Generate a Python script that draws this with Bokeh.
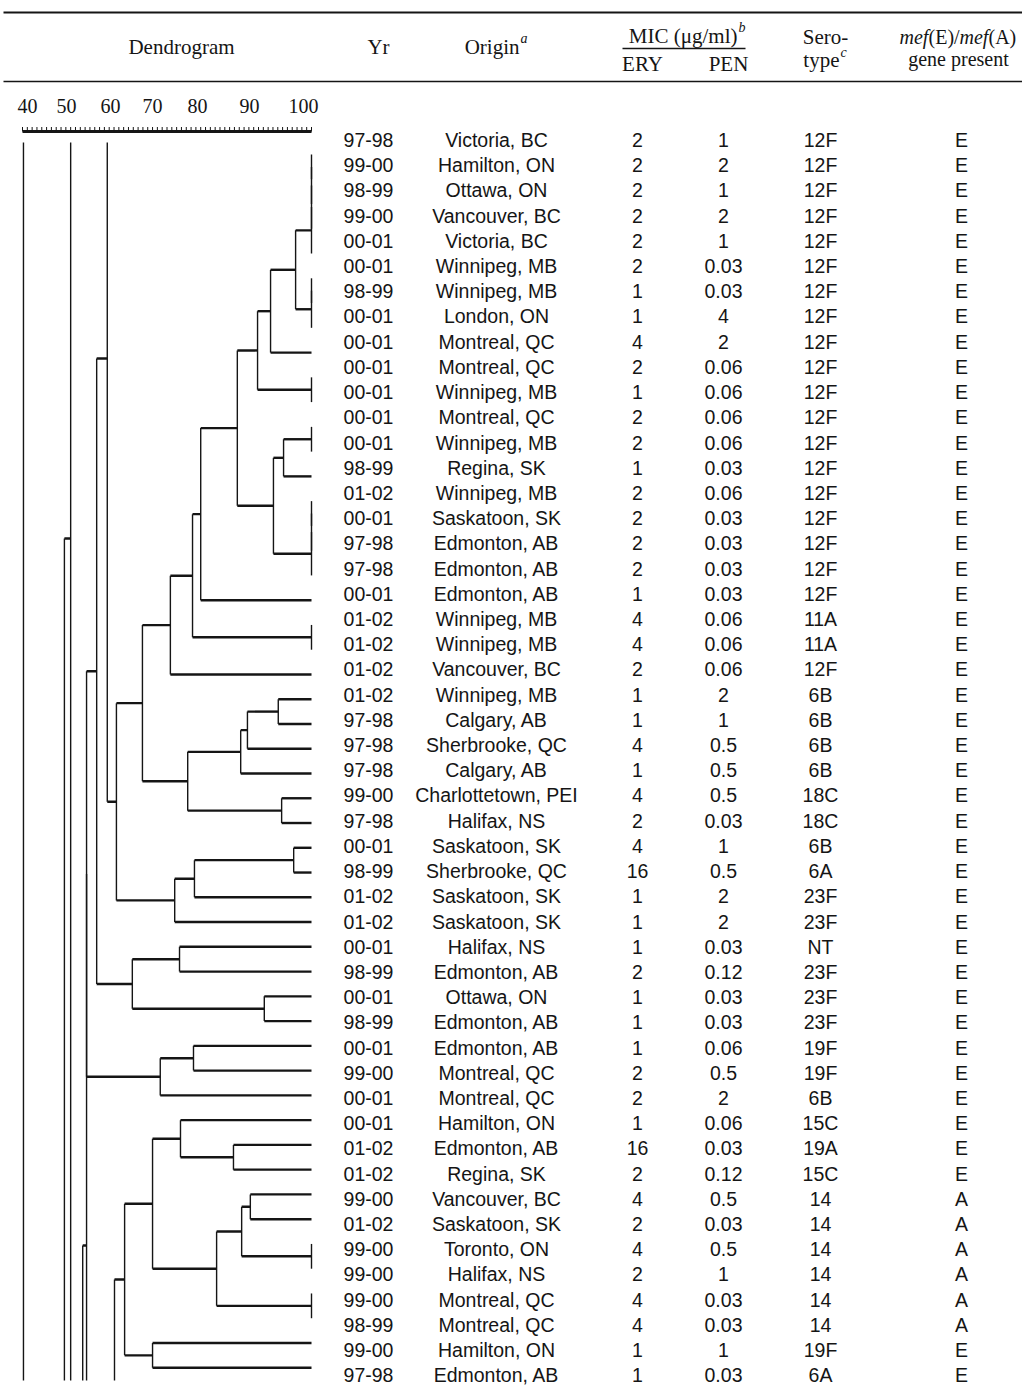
from bokeh.plotting import figure
from bokeh.models import Range1d, ColumnDataSource
from bokeh.embed import file_html
from bokeh.resources import INLINE
from bokeh.core.properties import value

# ---------------- data ----------------
years = ["97-98", "99-00", "98-99", "99-00", "00-01", "00-01", "98-99", "00-01", "00-01", "00-01",
         "00-01", "00-01", "00-01", "98-99", "01-02", "00-01", "97-98", "97-98", "00-01", "01-02",
         "01-02", "01-02", "01-02", "97-98", "97-98", "97-98", "99-00", "97-98", "00-01", "98-99",
         "01-02", "01-02", "00-01", "98-99", "00-01", "98-99", "00-01", "99-00", "00-01", "00-01",
         "01-02", "01-02", "99-00", "01-02", "99-00", "99-00", "99-00", "98-99", "99-00", "97-98"]
origins = ["Victoria, BC", "Hamilton, ON", "Ottawa, ON", "Vancouver, BC", "Victoria, BC",
           "Winnipeg, MB", "Winnipeg, MB", "London, ON", "Montreal, QC", "Montreal, QC",
           "Winnipeg, MB", "Montreal, QC", "Winnipeg, MB", "Regina, SK", "Winnipeg, MB",
           "Saskatoon, SK", "Edmonton, AB", "Edmonton, AB", "Edmonton, AB", "Winnipeg, MB",
           "Winnipeg, MB", "Vancouver, BC", "Winnipeg, MB", "Calgary, AB", "Sherbrooke, QC",
           "Calgary, AB", "Charlottetown, PEI", "Halifax, NS", "Saskatoon, SK", "Sherbrooke, QC",
           "Saskatoon, SK", "Saskatoon, SK", "Halifax, NS", "Edmonton, AB", "Ottawa, ON",
           "Edmonton, AB", "Edmonton, AB", "Montreal, QC", "Montreal, QC", "Hamilton, ON",
           "Edmonton, AB", "Regina, SK", "Vancouver, BC", "Saskatoon, SK", "Toronto, ON",
           "Halifax, NS", "Montreal, QC", "Montreal, QC", "Hamilton, ON", "Edmonton, AB"]
ery = ["2", "2", "2", "2", "2", "2", "1", "1", "4", "2",
       "1", "2", "2", "1", "2", "2", "2", "2", "1", "4",
       "4", "2", "1", "1", "4", "1", "4", "2", "4", "16",
       "1", "1", "1", "2", "1", "1", "1", "2", "2", "1",
       "16", "2", "4", "2", "4", "2", "4", "4", "1", "1"]
pen = ["1", "2", "1", "2", "1", "0.03", "0.03", "4", "2", "0.06",
       "0.06", "0.06", "0.06", "0.03", "0.06", "0.03", "0.03", "0.03", "0.03", "0.06",
       "0.06", "0.06", "2", "1", "0.5", "0.5", "0.5", "0.03", "1", "0.5",
       "2", "2", "0.03", "0.12", "0.03", "0.03", "0.06", "0.5", "2", "0.06",
       "0.03", "0.12", "0.5", "0.03", "0.5", "1", "0.03", "0.03", "1", "0.03"]
serotype = ["12F", "12F", "12F", "12F", "12F", "12F", "12F", "12F", "12F", "12F",
            "12F", "12F", "12F", "12F", "12F", "12F", "12F", "12F", "12F", "11A",
            "11A", "12F", "6B", "6B", "6B", "6B", "18C", "18C", "6B", "6A",
            "23F", "23F", "NT", "23F", "23F", "23F", "19F", "19F", "6B", "15C",
            "19A", "15C", "14", "14", "14", "14", "14", "14", "19F", "6A"]
mef_gene = ["E"] * 42 + ["A"] * 6 + ["E", "E"]

scale_labels = ["40", "50", "60", "70", "80", "90", "100"]

# dendrogram: (node, similarity %, [children]); ints are isolate rows
merges = [
    ("a1", 100, [1, 2]), ("a2", 100, ["a1", 3]), ("a3", 100, ["a2", 4]), ("A", 100, ["a3", 5]),
    ("b1", 100, [6, 7]), ("B68", 100, ["b1", 8]),
    ("B", 96.7, ["A", "B68"]),
    ("C", 91.5, ["B", 9]),
    ("G1011", 100, [10, 11]),
    ("D", 88.8, ["C", "G1011"]),
    ("G1213", 100, [12, 13]),
    ("F", 94.2, ["G1213", 14]),
    ("c1", 100, [15, 16]), ("c2", 100, ["c1", 17]), ("G1518", 100, ["c2", 18]),
    ("G", 92.1, ["F", "G1518"]),
    ("E", 84.6, ["D", "G"]),
    ("H", 77.0, ["E", 19]),
    ("G2021", 100, [20, 21]),
    ("I", 75.3, ["H", "G2021"]),
    ("J", 70.7, ["I", 22]),
    ("L", 93.1, [23, 24]),
    ("M", 86.7, ["L", 25]),
    ("N", 85.3, ["M", 26]),
    ("O", 93.8, [27, 28]),
    ("P", 74.3, ["N", "O"]),
    ("K", 64.9, ["J", "P"]),
    ("R", 96.3, [29, 30]),
    ("S", 75.7, ["R", 31]),
    ("T", 71.6, ["S", 32]),
    ("Q", 59.5, ["K", "T"]),
    ("X", 72.6, [33, 34]),
    ("Y", 90.2, [35, 36]),
    ("W", 62.8, ["X", "Y"]),
    ("U", 57.6, ["up1", "Q"]),
    ("V", 55.4, ["U", "W"]),
    ("CC", 75.5, [37, 38]),
    ("BB", 68.6, ["CC", 39]),
    ("Z1", 53.3, ["V", "BB"]),
    ("Z2", 53.3, ["Z1", "dn1"]),
    ("N82", 52.5, ["Z2", "dn2"]),
    ("HH", 83.8, [41, 42]),
    ("GG", 72.8, [40, "HH"]),
    ("KK", 87.3, [43, 44]),
    ("G4546", 100, [45, 46]),
    ("JJ", 85.5, ["KK", "G4546"]),
    ("G4748", 100, [47, 48]),
    ("II", 80.3, ["JJ", "G4748"]),
    ("FF", 67.0, ["GG", "II"]),
    ("LL", 67.0, [49, 50]),
    ("EE", 61.2, ["FF", "LL"]),
    ("DD", 59.1, ["EE", "dn3"]),
    ("N70", 50.0, ["up2", "dn4"]),
    ("N64", 48.7, ["N70", "dn5"]),
    ("N23", 40.2, ["up3", "dn6"]),
]
# branches that continue beyond the cropped part of the dendrogram (row units)
stubs = {"up1": -8.66, "dn1": 60.06, "dn2": 64, "dn3": 64, "up2": -20,
         "dn4": 53.02, "dn5": 64, "up3": -20, "dn6": 64}

# ---------------- layout ----------------
W, H = 1022, 1392
p = figure(width=W, height=H, x_range=Range1d(0, W), y_range=Range1d(H, 0),
           output_backend="svg", toolbar_location=None, min_border=0,
           background_fill_color="white", border_fill_color="white")
p.axis.visible = False
p.grid.visible = False
p.outline_line_color = None

# similarity axis: 40 -> px 22, 100 -> px 311
px_per = 289 / 60.0
p.extra_x_ranges = {"sim": Range1d(40 - 22 / px_per, 100 + (W - 311) / px_per)}
# dendrogram rows: row 1 -> px 154, spacing 24.76 ; table rows: row 1 -> 139.5, spacing 25.21
d0, dstep = 154.0, 24.76
t0, tstep = 139.5, 25.21
p.extra_y_ranges = {
    "drow": Range1d(1 + (H - d0) / dstep, 1 + (0 - d0) / dstep),
    "trow": Range1d(1 + (H - t0) / tstep, 1 + (0 - t0) / tstep),
}
r_top = 1 + (142 - d0) / dstep
r_bot = 1 + (1380 - d0) / dstep

INK = "#151515"
SERIF = value("Liberation Serif")
SANS = value("Liberation Sans")

# ---- header ----
p.segment(x0=[3, 3], x1=[W, W], y0=[12, 81], y1=[12, 81],
          line_color=INK, line_width=[2.2, 1.6])
p.segment(x0=[622], x1=[745], y0=[48], y1=[48], line_color=INK, line_width=1.4)

hdr = dict(text_font=SERIF, text_font_size="21px", text_color=INK, text_baseline="middle")
p.text(x=[181, 378, 642, 728, 825], y=[46, 46, 63, 63, 36],
       text=["Dendrogram", "Yr", "ERY", "PEN", "Sero-"],
       text_align="center", **hdr)
p.text(x=[519, 737, 839], y=[46, 35, 59], text=["Origin", "MIC (\u03bcg/ml)", "type"],
       text_align="right", **hdr)
p.text(x=[520, 738, 840], y=[38, 27, 52], text=["a", "b", "c"], text_align="left",
       text_font=SERIF, text_font_size="14px", text_font_style="italic",
       text_color=INK, text_baseline="middle")
mh = dict(text_font=SERIF, text_font_size="20px", text_color=INK, text_baseline="middle")
p.text(x=[899, 959], y=[36, 36], text=["mef", "mef"], text_font_style="italic",
       text_align="left", **mh)
p.text(x=[928, 988], y=[36, 36], text=["(E)/", "(A)"], text_align="left", **mh)
p.text(x=[958], y=[58], text=["gene present"], text_align="center", **mh)

# ---- similarity scale ----
p.text(x=[27, 66, 110, 152, 197, 249, 303], y=[105] * 7, text=scale_labels,
       text_align="center", text_font=SERIF, text_font_size="20px",
       text_color=INK, text_baseline="middle")
p.segment(x0=[40], x1=[100], y0=[131], y1=[131], x_range_name="sim",
          line_color=INK, line_width=3)
ticks = list(range(40, 101))
p.segment(x0=ticks, x1=ticks, y0=[126.5] * len(ticks), y1=[131] * len(ticks),
          x_range_name="sim", line_color=INK, line_width=1)

# ---- dendrogram geometry ----
pos = {}
for i in range(1, 51):
    pos[i] = (100.0, float(i))
for k, r in stubs.items():
    pos[k] = (None, r)
vx, vy0, vy1 = [], [], []
hx0, hx1, hy = [], [], []
for name, sim, kids in merges:
    ys = [pos[k][1] for k in kids]
    y = sum(ys) / len(ys)
    pos[name] = (sim, y)
    a, b = max(min(ys), r_top), min(max(ys), r_bot)
    if b > a:
        vx.append(sim); vy0.append(a); vy1.append(b)
    for k in kids:
        kx, ky = pos[k]
        if kx is None or not (r_top <= ky <= r_bot) or kx == sim:
            continue
        hx0.append(sim); hx1.append(kx); hy.append(ky)

p.segment(x0=vx, x1=vx, y0=vy0, y1=vy1, x_range_name="sim", y_range_name="drow",
          line_color=INK, line_width=1.4)
p.segment(x0=hx0, x1=hx1, y0=hy, y1=hy, x_range_name="sim", y_range_name="drow",
          line_color=INK, line_width=2.4)

# ---- table ----
src = ColumnDataSource(dict(row=list(range(1, 51)), yr=years, org=origins, ery=ery,
                            pen=pen, sero=serotype, mef=mef_gene))
cell = dict(source=src, y_range_name="trow", text_align="center", text_baseline="middle",
            text_font=SANS, text_font_size="19.5px", text_color=INK)
for col, cx in [("yr", 368), ("org", 496), ("ery", 637), ("pen", 723), ("sero", 820), ("mef", 961)]:
    p.text(x=cx, y="row", text=col, **cell)

open("out.html", "w").write(file_html(p, INLINE))
